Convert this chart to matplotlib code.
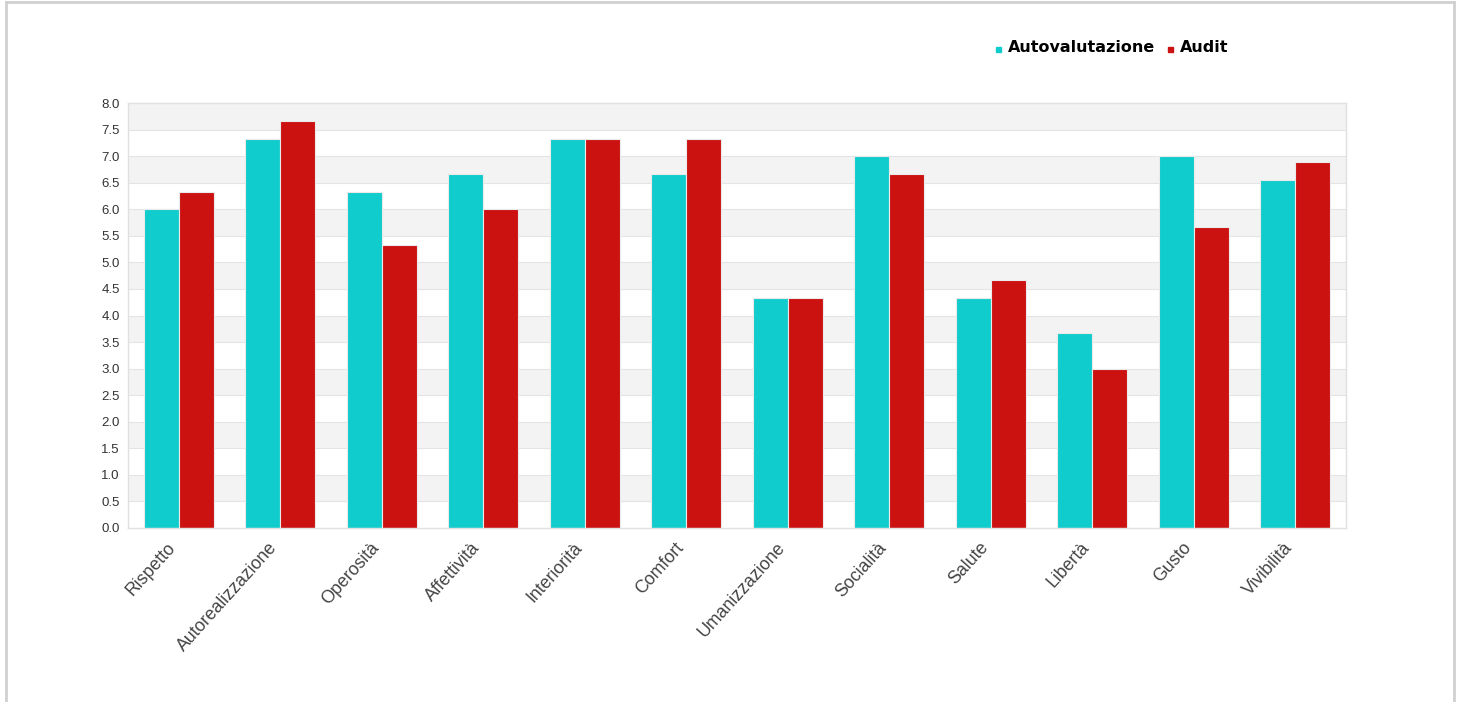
import numpy as np
import matplotlib
matplotlib.use("Agg")
import matplotlib.pyplot as plt
import matplotlib.transforms as mtransforms
from matplotlib.lines import Line2D
from matplotlib.patches import Rectangle

plt.rcParams['font.family'] = ['Liberation Sans', 'DejaVu Sans']

categories = ["Rispetto", "Autorealizzazione", "Operosità", "Affettività", "Interiorità",
              "Comfort", "Umanizzazione", "Socialità", "Salute", "Libertà", "Gusto", "Vivibilità"]
autovalutazione = [6.0, 7.33, 6.33, 6.67, 7.33, 6.67, 4.33, 7.0, 4.33, 3.67, 7.0, 6.56]
audit = [6.33, 7.67, 5.33, 6.0, 7.33, 7.33, 4.33, 6.67, 4.67, 3.0, 5.67, 6.89]
series_names = ["Autovalutazione", "Audit"]
colors = ["#11CCCC", "#CC1111"]

W, H = 1459, 702
fig = plt.figure(figsize=(W / 100, H / 100), dpi=100)
ax = fig.add_axes([128 / W, 1 - 528 / H, 1218 / W, 425 / H])

# alternating bands
for lo in np.arange(0.5, 8.0, 1.0):
    ax.axhspan(lo, lo + 0.5, color="#f3f3f3", zorder=0, lw=0)
for y in np.arange(0.5, 8.0, 0.5):
    ax.axhline(y, color="#e4e4e4", lw=0.8, zorder=0.5)

x = np.arange(len(categories))
w = 0.345
ax.bar(x - w / 2, autovalutazione, w, color=colors[0], edgecolor="#eaeaea", linewidth=0.8, zorder=2)
ax.bar(x + w / 2, audit, w, color=colors[1], edgecolor="#eaeaea", linewidth=0.8, zorder=2)

ax.set_xlim(-0.5, len(categories) - 0.5)
ax.set_ylim(0, 8)
ax.set_yticks(np.arange(0, 8.01, 0.5))
ax.set_yticklabels([f"{v:.1f}" for v in np.arange(0, 8.01, 0.5)], fontsize=9.5, color="#333333")
ax.set_xticks(x)
ax.set_xticklabels(categories, rotation=48, ha="right", rotation_mode="anchor",
                   fontsize=12.8, color="#444444")
ax.tick_params(axis="both", length=0)
ax.tick_params(axis="y", pad=6)
ax.tick_params(axis="x", pad=8)
shift = mtransforms.ScaledTranslation(-12 / 100, 0, fig.dpi_scale_trans)
for lab in ax.get_xticklabels():
    lab.set_transform(lab.get_transform() + shift)
for s in ax.spines.values():
    s.set_color("#e0e0e0")
    s.set_linewidth(1)

# legend
leg_x = [996, 1168]
for lx, name, c in zip(leg_x, series_names, colors):
    fig.add_artist(Rectangle((lx / W, 1 - 52 / H), 5 / W, 5 / H, color=c, transform=fig.transFigure))
    fig.text((lx + 12) / W, 1 - 52.5 / H, name, family="DejaVu Sans", weight="bold",
             fontsize=11.5, va="baseline", ha="left", color="black")

# outer frame
fig.add_artist(Line2D([5.5 / W, 5.5 / W], [0, 1 - 2 / H], color="#d0d0d0", lw=2))
fig.add_artist(Line2D([1454 / W, 1454 / W], [0, 1 - 2 / H], color="#d0d0d0", lw=2))
fig.add_artist(Line2D([5.5 / W, 1454 / W], [1 - 2 / H, 1 - 2 / H], color="#d0d0d0", lw=2))

fig.savefig("out.png", dpi=100, facecolor="white")
